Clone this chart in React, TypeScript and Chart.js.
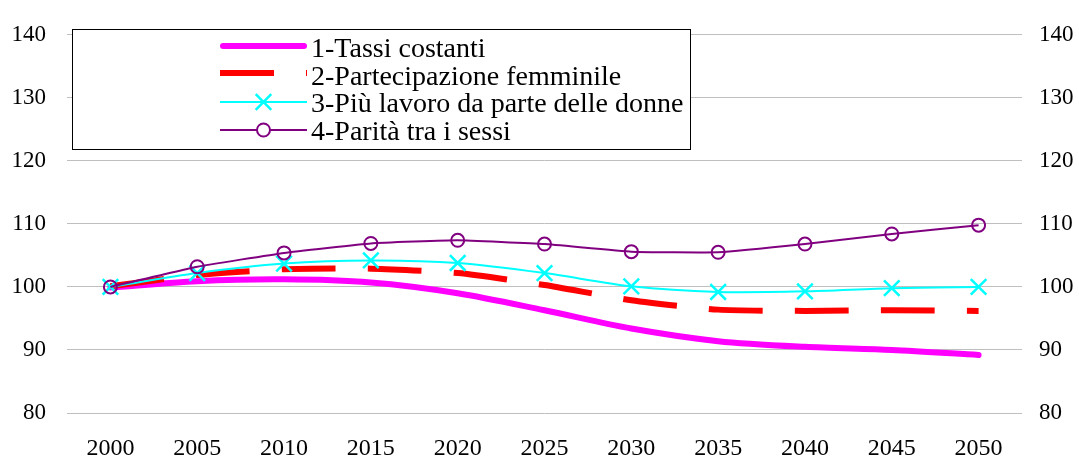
import React, { useEffect, useRef } from "react";
import { Chart, registerables } from "chart.js";

Chart.register(...registerables);

const years = ["2000", "2005", "2010", "2015", "2020", "2025", "2030", "2035", "2040", "2045", "2050"];
const tassiCostanti = [99.9, 100.9, 101.2, 100.7, 99.0, 96.3, 93.4, 91.4, 90.5, 90.0, 89.2];
const partecipazioneFemminile = [100.1, 101.9, 102.8, 102.9, 102.2, 100.3, 97.9, 96.4, 96.2, 96.3, 96.2];
const piuLavoro = [100.0, 102.2, 103.7, 104.2, 103.8, 102.2, 100.1, 99.2, 99.3, 99.8, 100.0];
const parita = [100.0, 103.2, 105.4, 106.9, 107.4, 106.8, 105.6, 105.5, 106.8, 108.4, 109.8];
const seriesLabels = [
  "1-Tassi costanti",
  "2-Partecipazione femminile",
  "3-Più lavoro da parte delle donne",
  "4-Parità tra i sessi",
];
const yMin = 80;
const yMax = 140;
const yStep = 10;

const FONT = "'Liberation Serif', 'Times New Roman', serif";

const boxLegend = {
  id: "boxLegend",
  afterDraw(chart: any) {
    const ctx = chart.ctx;
    const bx = 72.5, by = 29.5, bw = 618, bh = 120;
    ctx.save();
    ctx.fillStyle = "#ffffff";
    ctx.fillRect(bx, by, bw, bh);
    ctx.strokeStyle = "#000000";
    ctx.lineWidth = 1;
    ctx.strokeRect(bx, by, bw, bh);
    const rows = [46, 73, 102, 130];
    const baselines = [57, 84.5, 112, 139.5];
    const x0 = 220, x1 = 307, tx = 311;
    chart.data.datasets.forEach((ds: any, i: number) => {
      const y = rows[i];
      ctx.save();
      ctx.beginPath();
      ctx.strokeStyle = ds.borderColor;
      ctx.lineWidth = ds.borderWidth;
      ctx.lineCap = ds.borderCapStyle || "butt";
      ctx.setLineDash(ds.borderDash || []);
      ctx.moveTo(x0 + (ds.borderCapStyle === "round" ? 3 : 0), y);
      ctx.lineTo(x1 - (ds.borderCapStyle === "round" ? 3 : 0), y);
      ctx.stroke();
      ctx.setLineDash([]);
      const mx = (x0 + x1) / 2;
      if (ds.pointStyle === "crossRot" && ds.pointRadius > 0) {
        const o = ds.pointRadius * Math.SQRT1_2;
        ctx.strokeStyle = ds.pointBorderColor;
        ctx.lineWidth = ds.pointBorderWidth;
        ctx.beginPath();
        ctx.moveTo(mx - o, y - o);
        ctx.lineTo(mx + o, y + o);
        ctx.moveTo(mx - o, y + o);
        ctx.lineTo(mx + o, y - o);
        ctx.stroke();
      } else if (ds.pointStyle === "circle" && ds.pointRadius > 0) {
        ctx.fillStyle = "#ffffff";
        ctx.strokeStyle = ds.pointBorderColor;
        ctx.lineWidth = ds.pointBorderWidth;
        ctx.beginPath();
        ctx.arc(mx, y, ds.pointRadius, 0, Math.PI * 2);
        ctx.fill();
        ctx.stroke();
      }
      ctx.restore();
      ctx.fillStyle = "#000000";
      ctx.font = `28px ${FONT}`;
      ctx.textBaseline = "alphabetic";
      ctx.textAlign = "left";
      ctx.fillText(ds.label, tx, baselines[i]);
    });
    ctx.restore();
  },
};

export default function App() {
  const canvasRef = useRef<HTMLCanvasElement | null>(null);

  useEffect(() => {
    if (!canvasRef.current) return;
    const chart = new Chart(canvasRef.current, {
      type: "line",
      data: {
        labels: years,
        datasets: [
          {
            label: seriesLabels[0],
            data: tassiCostanti,
            borderColor: "#ff00ff",
            backgroundColor: "#ff00ff",
            borderWidth: 6,
            borderCapStyle: "round",
            borderJoinStyle: "round",
            pointRadius: 0,
            pointStyle: "circle",
            tension: 0.3,
            order: 3,
            yAxisID: "y",
          },
          {
            label: seriesLabels[1],
            data: partecipazioneFemminile,
            borderColor: "#ff0000",
            backgroundColor: "#ff0000",
            borderWidth: 6,
            borderDash: [54, 32],
            borderCapStyle: "butt",
            pointRadius: 0,
            pointStyle: "line",
            tension: 0.2,
            order: 2,
            yAxisID: "y",
          },
          {
            label: seriesLabels[2],
            data: piuLavoro,
            borderColor: "#00ffff",
            backgroundColor: "#00ffff",
            borderWidth: 2,
            pointStyle: "crossRot",
            pointRadius: 11,
            pointBorderColor: "#00ffff",
            pointBorderWidth: 2.5,
            tension: 0.25,
            order: 1,
            yAxisID: "y",
          },
          {
            label: seriesLabels[3],
            data: parita,
            borderColor: "#800080",
            backgroundColor: "rgba(255,255,255,0)",
            borderWidth: 2,
            pointStyle: "circle",
            pointRadius: 6.5,
            pointBorderColor: "#800080",
            pointBackgroundColor: "rgba(255,255,255,0)",
            pointBorderWidth: 2,
            tension: 0.1,
            order: 0,
            yAxisID: "y",
          },
        ],
      },
      options: {
        animation: false,
        responsive: true,
        maintainAspectRatio: false,
        layout: { padding: { top: 26, left: 0, right: 0, bottom: 0 } },
        plugins: {
          legend: { display: false },
          tooltip: { enabled: false },
        },
        scales: {
          x: {
            type: "category",
            offset: true,
            grid: { display: false, drawTicks: false },
            border: { display: false },
            ticks: {
              color: "#000000",
              font: { family: FONT, size: 24 },
              padding: 21,
              maxRotation: 0,
              autoSkip: false,
            },
            afterFit(scale: any) {
              scale.height = 44;
            },
          },
          y: {
            type: "linear",
            position: "left",
            min: yMin,
            max: yMax,
            grid: { color: "#bfbfbf", lineWidth: 1, drawTicks: false },
            border: { display: false },
            ticks: {
              stepSize: yStep,
              color: "#000000",
              font: { family: FONT, size: 23 },
              padding: 21,
            },
            afterFit(scale: any) {
              scale.width = 67;
            },
          },
          y2: {
            type: "linear",
            position: "right",
            min: yMin,
            max: yMax,
            grid: { display: false, drawTicks: false },
            border: { display: false },
            ticks: {
              stepSize: yStep,
              color: "#000000",
              font: { family: FONT, size: 23 },
              padding: 17,
            },
            afterFit(scale: any) {
              scale.width = 57;
            },
          },
        },
      },
      plugins: [boxLegend],
    } as any);
    return () => chart.destroy();
  }, []);

  return (
    <div style={{ position: "fixed", left: 0, top: 0, width: 1079, height: 457, background: "#ffffff" }}>
      <canvas ref={canvasRef} />
    </div>
  );
}
